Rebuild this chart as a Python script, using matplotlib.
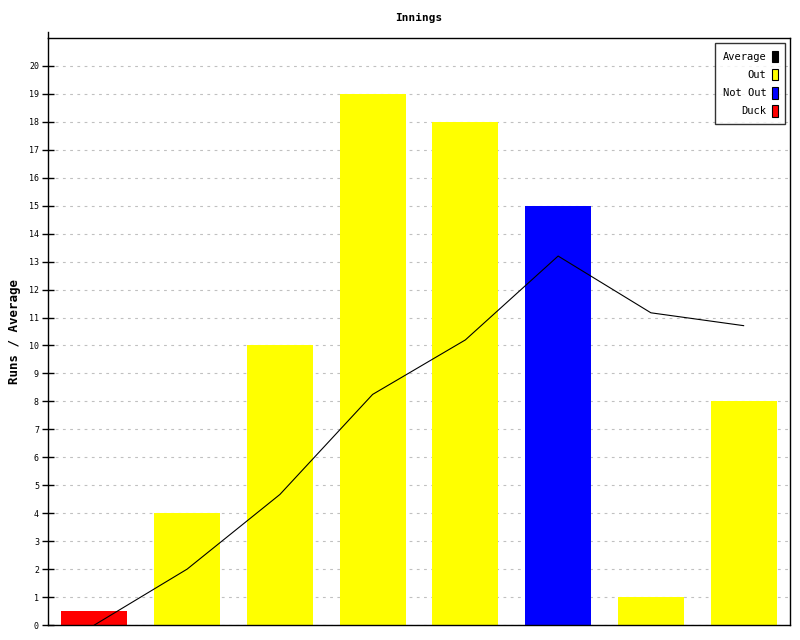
import matplotlib
matplotlib.use("Agg")
import matplotlib.pyplot as plt
from matplotlib.patches import Patch
import numpy as np

runs = [0.5, 4, 10, 19, 18, 15, 1, 8]
status = ["Duck", "Out", "Out", "Out", "Out", "Not Out", "Out", "Out"]
average = [0, 2, 4.67, 8.25, 10.2, 13.2, 11.17, 10.71]
yticks = list(range(0, 21))

colours = {"Out": "#ffff00", "Not Out": "#0000ff", "Duck": "#ff0000", "Average": "#000000"}

plt.rcParams['font.family'] = ['DejaVu Sans Mono']

fig = plt.figure(figsize=(8, 6.4), dpi=100)
ax = fig.add_axes([0.06, 0.0234, 0.9275, 0.9172])

x = np.arange(len(runs))
ax.bar(x, runs, width=0.71, color=[colours[s] for s in status], zorder=2)
ax.plot(x, average, color="black", lw=0.8, zorder=3)

ax.set_xlim(-0.5, len(runs) - 0.5)
ax.set_ylim(0, 21)
ax.set_yticks(yticks)
ax.set_yticklabels([str(t) for t in yticks], fontsize=6)
ax.set_xticks([])
ax.tick_params(axis="y", direction="inout", length=9, width=1, pad=2)
ax.yaxis.grid(True, linestyle=(0, (2.5, 4)), color="#c0c0c0", lw=0.8, zorder=0)
ax.set_axisbelow(True)
for s in ax.spines.values():
    s.set_linewidth(1)
# left axis pokes a little above the frame
ax.plot([0, 0], [21, 21.2], transform=ax.get_yaxis_transform(), color="black",
        lw=1, clip_on=False)

ax.set_ylabel("Runs / Average", fontsize=9, fontweight="bold", labelpad=6)
ax.set_title("Innings", fontsize=8, fontweight="bold", pad=12)

handles = [Patch(facecolor=colours[k], edgecolor="black", lw=0.8, label=k)
           for k in ["Average", "Out", "Not Out", "Duck"]]
leg = ax.legend(handles=handles, loc="upper right", markerfirst=False, fontsize=7.5,
                frameon=True, fancybox=False, edgecolor="black", borderpad=0.75,
                labelspacing=0.62, handlelength=0.55, handleheight=1.35,
                handletextpad=0.5, borderaxespad=0.45, alignment="right")
leg.get_frame().set_linewidth(1)
for t in leg.get_texts():
    t.set_ha("right")

fig.savefig("out.png", dpi=100)
